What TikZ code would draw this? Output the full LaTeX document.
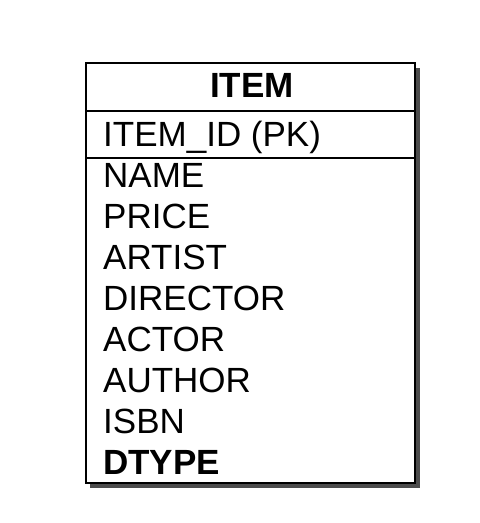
\documentclass[tikz,border=0pt]{standalone}
\usepackage{fontspec}
\setmainfont{Liberation Sans}
\begin{document}
\begin{tikzpicture}[x=1pt,y=-1pt,
  field/.style={anchor=base west,inner sep=0pt,font=\fontsize{35}{40}\selectfont},
  title/.style={anchor=base,inner sep=0pt,font=\fontsize{35}{40}\selectfont\bfseries}]
\useasboundingbox (0,0) rectangle (480,523);
% bóng đổ và khung bảng
\fill[black!70] (90,68) rectangle (420,488);
\fill[white] (86,63) rectangle (415,483);
\draw[line width=2.2pt] (86,63) rectangle (415,483);
\draw[line width=2.2pt] (86,111)--(415,111);
\draw[line width=2.2pt] (86,158)--(415,158);
% tên bảng và khóa chính
\node[title] (item) at (252,97) {ITEM};
\node[field] (pk) at (103,146) {ITEM\_ID (PK)};
% các cột
\foreach \c [count=\i] in {NAME,PRICE,ARTIST,DIRECTOR,ACTOR,AUTHOR,ISBN}
\node[field] (col\i) at (103,{146+41*\i}) {\c};
\node[field,font=\fontsize{35}{40}\selectfont\bfseries] (dtype) at (103,474) {DTYPE};
\end{tikzpicture}
\end{document}
